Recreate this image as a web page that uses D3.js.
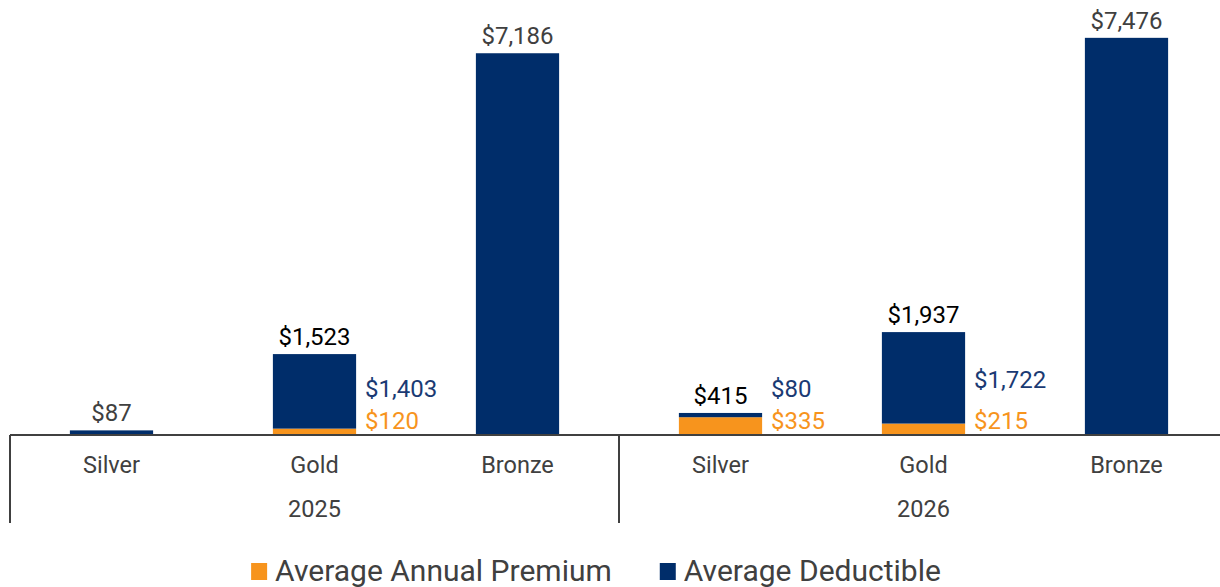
<!DOCTYPE html>
<html>
<head>
<meta charset="utf-8">
<script src="https://cdn.jsdelivr.net/npm/d3@7"></script>
<style>
  body { margin:0; background:#fff; }
  text { font-family: Roboto, "Noto Sans", sans-serif; }
</style>
</head>
<body>
<svg id="chart" width="1220" height="587"></svg>
<script>
var years = ["2025", "2026"];
var plans = ["Silver", "Gold", "Bronze"];
var premium    = [0, 120, 0, 335, 215, 0];
var deductible = [87, 1403, 7186, 80, 1722, 7476];
var seriesNames = ["Average Annual Premium", "Average Deductible"];

var orange = "#F7941D"
  , navy = "#002D6A"
  , navyText = "#1A3A73"
  , grey = "#404040";

var svg = d3.select("#chart");

var baseY = 435
  , left = 10;

// one row per bar
var rows = [];
years.forEach(function(yr, i){
  plans.forEach(function(p, j){
    var k = i*plans.length + j;
    rows.push({idx:k, year:yr, plan:p, premium:premium[k], deductible:deductible[k]});
  });
});

var x = d3.scaleBand()
    .domain(d3.range(rows.length))
    .range([left, 1228])
    .paddingInner(0.59)
    .paddingOuter(0.295);

var y = d3.scaleLinear()
    .domain([0, 8000])
    .range([baseY, 10]);

var fmt = function(v){ return "$" + d3.format(",")(v); };

// bars
var bars = svg.append("g").attr("id", "bars");
bars.selectAll(".prem")
    .data(rows.filter(d => d.premium > 0))
  .enter().append("rect")
    .attr("class", "prem")
    .attr("x", d => x(d.idx))
    .attr("width", x.bandwidth())
    .attr("y", d => y(d.premium))
    .attr("height", d => y(0) - y(d.premium))
    .attr("fill", orange);
bars.selectAll(".ded")
    .data(rows)
  .enter().append("rect")
    .attr("class", "ded")
    .attr("x", d => x(d.idx))
    .attr("width", x.bandwidth())
    .attr("y", d => y(d.premium + d.deductible))
    .attr("height", d => y(d.premium) - y(d.premium + d.deductible))
    .attr("fill", navy);

// total labels on top
svg.append("g").selectAll("text")
    .data(rows)
  .enter().append("text")
    .attr("x", d => x(d.idx) + x.bandwidth()/2)
    .attr("y", d => y(d.premium + d.deductible) - 9)
    .attr("text-anchor", "middle")
    .attr("font-size", 24)
    .attr("fill", d => d.premium > 0 ? "#000" : grey)
    .text(d => fmt(d.premium + d.deductible));

// side labels for split bars
var split = rows.filter(d => d.premium > 0);
svg.append("g").selectAll("text")
    .data(split)
  .enter().append("text")
    .attr("x", d => x(d.idx) + x.bandwidth() + 9)
    .attr("y", d => Math.min((y(d.premium) + y(d.premium + d.deductible))/2 + 10, 397))
    .attr("font-size", 24)
    .attr("fill", navyText)
    .text(d => fmt(d.deductible));
svg.append("g").selectAll("text")
    .data(split)
  .enter().append("text")
    .attr("x", d => x(d.idx) + x.bandwidth() + 9)
    .attr("y", y(0) - 6)
    .attr("font-size", 24)
    .attr("fill", orange)
    .text(d => fmt(d.premium));

// axis
var axis = svg.append("g").attr("id", "axis");
axis.append("line")
    .attr("x1", left).attr("x2", 1220)
    .attr("y1", baseY).attr("y2", baseY)
    .attr("stroke", grey).attr("stroke-width", 2);
var step = x.step();
axis.selectAll(".sep")
    .data(d3.range(years.length + 1))
  .enter().append("line")
    .attr("class", "sep")
    .attr("x1", d => left + d*plans.length*step)
    .attr("x2", d => left + d*plans.length*step)
    .attr("y1", baseY).attr("y2", 523)
    .attr("stroke", grey).attr("stroke-width", 2);
axis.selectAll(".cat")
    .data(rows)
  .enter().append("text")
    .attr("class", "cat")
    .attr("x", d => x(d.idx) + x.bandwidth()/2)
    .attr("y", 473)
    .attr("text-anchor", "middle")
    .attr("font-size", 23.5)
    .attr("fill", grey)
    .text(d => d.plan);
axis.selectAll(".yr")
    .data(years)
  .enter().append("text")
    .attr("class", "yr")
    .attr("x", (d, i) => left + (i + 0.5)*plans.length*step)
    .attr("y", 517)
    .attr("text-anchor", "middle")
    .attr("font-size", 23.5)
    .attr("fill", grey)
    .text(d => d);

// legend
var legend = svg.append("g").attr("id", "legend");
var items = legend.selectAll(".item")
    .data(seriesNames)
  .enter().append("g")
    .attr("class", "item");
items.append("rect")
    .attr("width", 16).attr("height", 17)
    .attr("y", 563)
    .attr("fill", (d, i) => i == 0 ? orange : navy);
items.append("text")
    .attr("x", 24)
    .attr("y", 581)
    .attr("font-size", 30)
    .attr("fill", grey)
    .text(d => d);
var widths = [];
items.each(function(){ widths.push(24 + d3.select(this).select("text").node().getComputedTextLength()); });
var gap = 48
  , total = d3.sum(widths) + gap*(widths.length - 1);
var off = 596 - total/2;
items.attr("transform", function(d, i){
  var t = "translate(" + off + ",0)";
  off += widths[i] + gap;
  return t;
});
</script>
</body>
</html>
